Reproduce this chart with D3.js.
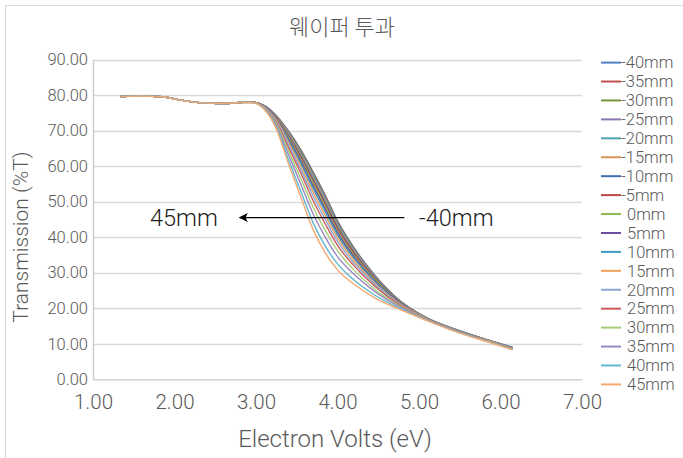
<!DOCTYPE html>
<html>
<head>
<meta charset="utf-8">
<script src="https://cdn.jsdelivr.net/npm/d3@7"></script>
<style>
  html, body { margin: 0; padding: 0; background: #fff; }
  svg { display: block; }
  text { font-family: Roboto, "Noto Sans", sans-serif; }
</style>
</head>
<body>
<svg id="chart" width="683" height="458"></svg>
<script>
// ---------- data ----------
const chartTitle = "웨이퍼 투과";
const xTitle = "Electron Volts (eV)";
const yTitle = "Transmission (%T)";
const xTicks = [1, 2, 3, 4, 5, 6, 7];
const yTicks = [0, 10, 20, 30, 40, 50, 60, 70, 80, 90];

// photon energy (eV) sample points shared by all series
const energy = [1.34, 1.6, 1.85, 2.1, 2.35, 2.6, 2.8, 2.95, 3.1, 3.25, 3.4, 3.55, 3.7, 3.85, 4.0, 4.2, 4.45, 4.75, 5.1, 5.5, 5.85, 6.15];

const seriesNames = ["-40mm", "-35mm", "-30mm", "-25mm", "-20mm", "-15mm", "-10mm", "-5mm", "0mm",
                     "5mm", "10mm", "15mm", "20mm", "25mm", "30mm", "35mm", "40mm", "45mm"];
const seriesColors = ["#4f7fbf", "#c0504d", "#77933c", "#8a78b3", "#4fa3b0", "#d99556",
                      "#3f6fb0", "#b94a48", "#8dbb4f", "#6a4c9c", "#3b9cc0", "#f0a05a",
                      "#8aa8d6", "#cc5b5e", "#a6cd77", "#9a88c0", "#5fb8cf", "#f6a96f"];

const tM40 = [79.6, 79.7, 79.5, 78.5, 77.8, 77.6, 77.9, 78.0, 77.0, 74.2, 69.8, 64.6, 58.4, 51.8, 44.6, 37.1, 29.5, 22.4, 17.2, 13.6, 11.0, 8.9];
const tM35 = [79.6, 79.7, 79.5, 78.5, 77.8, 77.6, 77.9, 78.0, 77.0, 74.1, 69.7, 64.4, 58.2, 51.6, 44.4, 36.9, 29.4, 22.4, 17.2, 13.6, 11.0, 8.9];
const tM30 = [79.6, 79.7, 79.5, 78.5, 77.8, 77.6, 77.9, 78.0, 77.0, 74.1, 69.5, 64.2, 57.9, 51.3, 44.2, 36.8, 29.3, 22.3, 17.2, 13.6, 11.0, 8.9];
const tM25 = [79.6, 79.7, 79.5, 78.5, 77.8, 77.6, 77.9, 78.0, 77.0, 74.0, 69.3, 63.9, 57.6, 51.0, 43.9, 36.6, 29.2, 22.3, 17.2, 13.6, 11.0, 8.9];
const tM20 = [79.6, 79.7, 79.5, 78.5, 77.8, 77.6, 77.9, 78.0, 76.9, 73.9, 69.2, 63.7, 57.3, 50.7, 43.6, 36.4, 29.0, 22.2, 17.2, 13.6, 11.0, 8.9];
const tM15 = [79.6, 79.7, 79.5, 78.5, 77.8, 77.6, 77.9, 78.0, 76.9, 73.8, 68.9, 63.3, 56.8, 50.2, 43.2, 36.1, 28.9, 22.1, 17.1, 13.5, 11.0, 8.8];
const tM10 = [79.6, 79.7, 79.5, 78.5, 77.8, 77.6, 77.9, 78.0, 76.9, 73.7, 68.6, 62.9, 56.3, 49.7, 42.8, 35.8, 28.7, 22.1, 17.1, 13.5, 10.9, 8.8];
const tM5  = [79.6, 79.7, 79.5, 78.5, 77.8, 77.6, 77.9, 78.0, 76.8, 73.6, 68.3, 62.5, 55.8, 49.2, 42.4, 35.5, 28.5, 22.0, 17.1, 13.5, 10.9, 8.8];
const tP0  = [79.6, 79.7, 79.5, 78.5, 77.8, 77.6, 77.9, 78.0, 76.8, 73.4, 68.0, 61.9, 55.2, 48.6, 41.8, 35.0, 28.2, 21.9, 17.1, 13.5, 10.9, 8.8];
const tP5  = [79.6, 79.7, 79.5, 78.5, 77.8, 77.6, 77.9, 78.0, 76.8, 73.3, 67.6, 61.4, 54.5, 47.9, 41.3, 34.6, 27.9, 21.8, 17.0, 13.5, 10.9, 8.8];
const tP10 = [79.6, 79.7, 79.5, 78.5, 77.8, 77.6, 77.9, 78.0, 76.7, 73.1, 67.1, 60.7, 53.7, 47.1, 40.6, 34.1, 27.6, 21.6, 17.0, 13.4, 10.9, 8.7];
const tP15 = [79.6, 79.7, 79.5, 78.5, 77.8, 77.6, 77.9, 78.0, 76.7, 72.9, 66.6, 59.9, 52.7, 46.1, 39.8, 33.5, 27.2, 21.5, 17.0, 13.4, 10.8, 8.7];
const tP20 = [79.6, 79.7, 79.5, 78.5, 77.8, 77.6, 77.9, 78.0, 76.6, 72.6, 66.0, 59.0, 51.6, 45.0, 38.8, 32.8, 26.8, 21.3, 16.9, 13.3, 10.8, 8.6];
const tP25 = [79.6, 79.7, 79.5, 78.5, 77.8, 77.6, 77.9, 78.0, 76.5, 72.3, 65.2, 58.0, 50.3, 43.7, 37.7, 32.0, 26.3, 21.1, 16.9, 13.3, 10.8, 8.6];
const tP30 = [79.6, 79.7, 79.5, 78.5, 77.8, 77.6, 77.9, 77.9, 76.4, 71.9, 64.2, 56.5, 48.5, 41.9, 36.2, 30.8, 25.5, 20.8, 16.8, 13.2, 10.7, 8.5];
const tP35 = [79.6, 79.7, 79.5, 78.5, 77.8, 77.6, 77.9, 77.9, 76.3, 71.4, 63.1, 54.9, 46.6, 40.0, 34.5, 29.6, 24.8, 20.5, 16.7, 13.2, 10.6, 8.5];
const tP40 = [79.6, 79.7, 79.5, 78.5, 77.8, 77.6, 77.9, 77.9, 76.1, 70.9, 61.7, 52.9, 44.1, 37.5, 32.5, 28.0, 23.8, 20.1, 16.6, 13.1, 10.6, 8.4];
const tP45 = [79.6, 79.7, 79.5, 78.5, 77.8, 77.6, 77.9, 77.9, 76.0, 70.4, 60.6, 51.3, 42.2, 35.6, 30.8, 26.8, 23.0, 19.8, 16.5, 13.0, 10.5, 8.3];

const seriesValues = [tM40, tM35, tM30, tM25, tM20, tM15, tM10, tM5, tP0,
                      tP5, tP10, tP15, tP20, tP25, tP30, tP35, tP40, tP45];

// annotation arrow (data coords)
const arrowFromX = 4.82, arrowToX = 2.8, arrowY = 45.5;
const arrowLeftLabel = "45mm", arrowRightLabel = "-40mm";

// ---------- drawing ----------
const svg = d3.select("#chart");
const textColor = "#595959";
const gridColor = "#d9d9d9";

// chart border
svg.append("rect").attr("x", 5.5).attr("y", 5.5).attr("width", 700).attr("height", 500)
  .attr("fill", "#fff").attr("stroke", gridColor).attr("stroke-width", 1);

const x = d3.scaleLinear().domain([1, 7]).range([93, 582]);
const y = d3.scaleLinear().domain([0, 90]).range([379.3, 59.5]);

// title
svg.append("text").attr("x", 342).attr("y", 35).attr("text-anchor", "middle")
  .style("font-family", "'Noto Sans CJK KR', sans-serif").style("font-weight", 300)
  .attr("font-size", 22).attr("fill", textColor).text(chartTitle);

// gridlines
svg.append("g").selectAll("line").data(yTicks.filter(d => d > 0)).join("line")
  .attr("x1", x(1)).attr("x2", x(7))
  .attr("y1", d => Math.round(y(d)) + 0.5).attr("y2", d => Math.round(y(d)) + 0.5)
  .attr("stroke", gridColor).attr("stroke-width", 1.3);

// y axis
const yAxis = d3.axisLeft(y).tickValues(yTicks).tickFormat(d3.format(".2f")).tickSize(0).tickPadding(5);
const gy = svg.append("g").attr("transform", `translate(${x(1)},0)`).call(yAxis);
gy.select(".domain").attr("stroke", "#c8c8c8").attr("stroke-width", 1.3);
gy.selectAll("text").attr("font-size", 16.5).attr("fill", textColor)
  .style("font-family", "Roboto").style("font-weight", 300);

// x axis
const xAxis = d3.axisBottom(x).tickValues(xTicks).tickFormat(d3.format(".2f")).tickSize(0).tickPadding(15);
const gx = svg.append("g").attr("transform", `translate(0,${y(0)})`).call(xAxis);
gx.select(".domain").attr("stroke", "#c8c8c8").attr("stroke-width", 1.3);
gx.selectAll("text").attr("font-size", 20.5).attr("fill", textColor)
  .style("font-family", "Roboto").style("font-weight", 300);

// axis titles
svg.append("text").attr("x", 335).attr("y", 447).attr("text-anchor", "middle")
  .attr("font-size", 24).attr("fill", textColor).style("font-weight", 300).text(xTitle);
svg.append("text").attr("transform", "translate(28,237) rotate(-90)").attr("text-anchor", "middle")
  .attr("font-size", 21).attr("fill", textColor).style("font-weight", 300).text(yTitle);

// series lines
const line = d3.line().x((d, i) => x(energy[i])).y(d => y(d)).curve(d3.curveMonotoneX);
svg.append("g").selectAll("path").data(seriesValues).join("path")
  .attr("d", d => line(d))
  .attr("fill", "none")
  .attr("stroke", (d, i) => seriesColors[i])
  .attr("stroke-width", 1.4);

// arrow annotation
const defs = svg.append("defs");
defs.append("marker").attr("id", "ah").attr("viewBox", "0 0 10 10")
  .attr("refX", 9).attr("refY", 5).attr("markerWidth", 16).attr("markerHeight", 9)
  .attr("markerUnits", "userSpaceOnUse").attr("orient", "auto")
  .append("path").attr("d", "M0,0 L10,5 L0,10 L2.5,5 Z").attr("fill", "#000");
svg.append("line")
  .attr("x1", x(arrowFromX)).attr("x2", x(arrowToX))
  .attr("y1", y(arrowY)).attr("y2", y(arrowY))
  .attr("stroke", "#000").attr("stroke-width", 1.3).attr("marker-end", "url(#ah)");
svg.append("text").attr("x", 150).attr("y", 226).attr("font-size", 23.5)
  .attr("fill", "#222").style("font-weight", 300).text(arrowLeftLabel);
svg.append("text").attr("x", 419).attr("y", 226).attr("font-size", 23.5)
  .attr("fill", "#222").style("font-weight", 300).text(arrowRightLabel);

// legend
const legend = svg.append("g");
const legY0 = 62.6, legStep = 18.93;
seriesNames.forEach((name, i) => {
  const cy = legY0 + i * legStep;
  legend.append("line").attr("x1", 601).attr("x2", 621).attr("y1", cy).attr("y2", cy)
    .attr("stroke", seriesColors[i]).attr("stroke-width", 2);
  legend.append("text").attr("x", name.startsWith("-") ? 621 : 627).attr("y", cy + 5.8)
    .attr("font-size", 16.5).attr("fill", textColor).style("font-weight", 300).text(name);
});
</script>
</body>
</html>
